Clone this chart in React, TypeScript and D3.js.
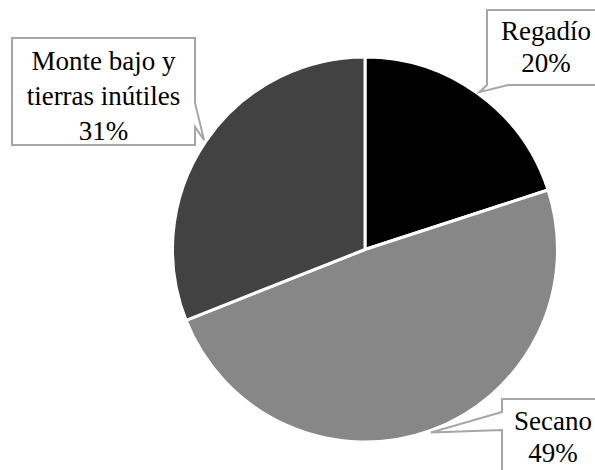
import React, { useEffect, useRef } from "react";
import * as d3 from "d3";

const categories = ["Regadío", "Secano", "Monte bajo y tierras inútiles"];
const values = [20, 49, 31];
const labelLines = [["Regadío", "20%"], ["Secano", "49%"], ["Monte bajo y", "tierras inútiles", "31%"]];
const colors = ["#000000", "#878787", "#424242"];

const W = 595, H = 470;
const cx = 365, cy = 249.5, R = 192.5;
const FONT = "Liberation Serif, Times New Roman, serif";

const boxes = [
  { x0: 487, y0: 10, x1: 606, y1: 85, side: "bottom", a: 487, b: 508, textX: 546, base0: 40, lh: 32 },
  { x0: 502, y0: 399, x1: 606, y1: 480, side: "left", a: 412, b: 430, textX: 553, base0: 430, lh: 32 },
  { x0: 12, y0: 38, x1: 195, y1: 145, side: "right", a: 103, b: 127, textX: 103.5, base0: 70, lh: 35 },
];

function calloutPath(bx: any, tx: number, ty: number) {
  const { x0, y0, x1, y1, side, a, b } = bx;
  if (side === "bottom") {
    return `M${x0},${y0} L${x1},${y0} L${x1},${y1} L${b},${y1} L${tx},${ty} L${a},${y1} Z`;
  }
  if (side === "left") {
    return `M${x0},${y0} L${x1},${y0} L${x1},${y1} L${x0},${y1} L${x0},${b} L${tx},${ty} L${x0},${a} Z`;
  }
  return `M${x0},${y0} L${x1},${y0} L${x1},${a} L${tx},${ty} L${x1},${b} L${x1},${y1} L${x0},${y1} Z`;
}

export default function App() {
  const ref = useRef<SVGSVGElement | null>(null);
  useEffect(() => {
    const svg = d3.select(ref.current);
    svg.selectAll("*").remove();
    svg.append("rect").attr("width", W).attr("height", H).attr("fill", "#fff");
    const pie = d3.pie<number>().sort(null).value((d) => d)(values);
    const arc = d3.arc<d3.PieArcDatum<number>>().innerRadius(0).outerRadius(R);
    const tipArc = d3.arc<d3.PieArcDatum<number>>().innerRadius(R + 2).outerRadius(R + 2);
    const g = svg.append("g").attr("transform", `translate(${cx},${cy})`);
    g.selectAll("path.slice").data(pie).enter().append("path")
      .attr("class", "slice")
      .attr("d", (d) => arc(d) || "")
      .attr("fill", (_d, i) => colors[i])
      .attr("stroke", "#fff").attr("stroke-width", 3).attr("stroke-linejoin", "round");
    pie.forEach((p, i) => {
      const [tx, ty] = tipArc.centroid(p);
      const bx = boxes[i];
      const lg = svg.append("g").attr("class", "label").attr("data-cat", categories[i]);
      lg.append("path").attr("d", calloutPath(bx, tx + cx, ty + cy))
        .attr("fill", "#fff").attr("stroke", "#a6a6a6").attr("stroke-width", 2);
      labelLines[i].forEach((t, j) => {
        lg.append("text")
          .attr("x", bx.textX).attr("y", bx.base0 + j * bx.lh)
          .attr("text-anchor", "middle")
          .attr("font-family", FONT)
          .style("font-family", FONT)
          .attr("font-size", 27)
          .attr("fill", "#000")
          .text(t);
      });
    });
  }, []);
  return <svg ref={ref} width={W} height={H} style={{ position: "absolute", left: 0, top: 0 }} />;
}
